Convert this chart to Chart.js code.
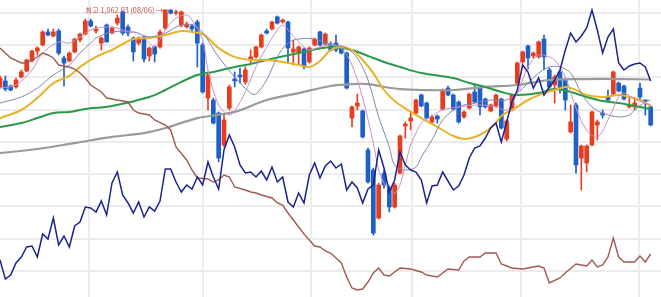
<!DOCTYPE html>
<html><head><meta charset="utf-8">
<script src="https://cdn.jsdelivr.net/npm/chart.js@4.4.1/dist/chart.umd.min.js"></script>
<style>html,body{margin:0;padding:0;background:#fff;overflow:hidden}#wrap{width:661px;height:297px;position:relative}</style>
</head><body><div id="wrap"><canvas id="c"></canvas></div>
<script>
// ---- candle data (index points) ----
const open = [1014.1,1017.8,1014.7,1014.1,1020.3,1024.0,1030.2,1036.4,1040.1,1048.2,1045.7,1048.8,1032.0,1030.2,1035.8,1043.2,1046.9,1055.0,1048.8,1041.3,1052.5,1047.5,1053.7,1060.6,1051.3,1044.4,1041.3,1045.1,1033.3,1038.9,1038.9,1050.6,1061.8,1059.9,1052.5,1051.3,1051.9,1054.4,1040.1,1007.2,1006.0,997.9,978.1,1001.0,1019.0,1021.5,1017.2,1030.8,1032.7,1038.9,1048.8,1050.0,1057.5,1054.4,1054.4,1035.8,1035.1,1037.6,1029.6,1040.1,1048.2,1040.7,1040.7,1041.3,1038.2,1035.1,994.8,1002.3,999.2,975.0,962.6,932.8,960.7,951.4,939.7,960.7,989.9,993.0,997.9,1009.1,1004.1,992.4,996.1,1000.4,1013.4,1009.1,1004.8,995.5,1001.0,1011.0,1013.4,1006.6,999.2,1002.3,1006.6,981.8,999.8,1016.5,1029.6,1039.5,1033.3,1032.7,1043.8,1024.6,1015.3,1023.4,1018.4,986.2,1002.9,970.0,966.9,978.1,990.5,997.9,1007.9,1009.7,1016.5,1014.7,1001.7,1001.7,1013.4,1006.0,1001.7];
const close = [1019.6,1012.8,1012.2,1018.4,1023.4,1030.8,1036.4,1038.2,1048.2,1046.3,1048.2,1035.1,1028.9,1035.1,1043.8,1046.9,1055.0,1051.9,1050.0,1044.4,1042.0,1050.6,1056.8,1047.5,1047.5,1035.8,1044.4,1031.4,1038.2,1034.5,1048.2,1061.8,1059.9,1060.6,1060.6,1053.1,1050.0,1041.3,1011.0,1021.5,991.7,970.0,993.6,1014.1,1017.8,1020.3,1024.6,1032.7,1038.9,1046.3,1047.5,1054.4,1053.7,1055.6,1038.2,1037.6,1038.9,1026.5,1038.2,1043.8,1040.1,1046.9,1037.0,1037.0,1035.1,1013.4,1001.7,1004.1,983.1,955.2,923.5,953.3,953.3,939.7,953.3,983.7,991.1,994.8,1006.0,1002.3,994.8,995.5,994.2,1012.2,1009.1,1000.4,992.4,998.6,1009.7,1004.8,1001.7,1001.7,1002.9,1009.1,988.6,993.0,1009.1,1028.9,1035.8,1032.0,1035.1,1042.0,1032.7,1014.1,1020.3,1013.4,1006.0,992.4,965.7,977.5,977.5,998.6,992.4,996.7,1006.0,1023.4,1011.6,1006.6,1002.9,1004.1,1007.9,1005.4,990.5];
const high = [1020.9,1020.9,1015.3,1019.6,1024.6,1031.4,1037.0,1038.9,1048.8,1050.0,1050.0,1050.0,1033.3,1035.8,1044.4,1047.5,1056.2,1056.2,1051.9,1045.1,1053.1,1051.3,1058.7,1061.2,1052.5,1045.1,1045.1,1045.7,1038.9,1039.5,1049.4,1062.03,1061.9,1061.8,1061.2,1054.4,1053.1,1055.6,1041.3,1023.4,1007.2,998.6,996.7,1015.3,1023.4,1025.8,1026.5,1037.0,1039.5,1046.9,1050.0,1055.0,1058.1,1056.2,1055.0,1043.2,1039.5,1038.2,1038.9,1044.4,1048.8,1047.5,1042.0,1046.3,1038.9,1035.8,1002.3,1009.7,999.8,976.2,963.8,954.5,962.6,952.7,954.5,984.3,992.4,997.9,1006.6,1009.7,1004.8,996.7,996.7,1012.8,1014.7,1009.7,1005.4,999.2,1010.3,1015.9,1014.1,1007.2,1003.5,1009.7,1007.2,993.6,1009.7,1029.6,1036.4,1040.1,1035.8,1042.6,1046.3,1025.8,1021.5,1024.6,1019.6,1002.9,1004.1,978.1,978.1,999.2,993.6,999.8,1012.2,1024.0,1017.2,1015.3,1007.9,1007.2,1016.5,1006.0,1002.3];
const low = [1013.4,1011.6,1011.6,1013.4,1019.6,1023.4,1029.6,1033.9,1039.5,1045.7,1045.1,1033.9,1014.7,1029.6,1035.2,1042.0,1046.3,1051.3,1047.5,1037.0,1041.8,1046.9,1052.5,1046.3,1045.7,1030.2,1040.1,1029.6,1030.2,1029.6,1038.2,1049.4,1059.3,1058.7,1051.3,1050.6,1048.8,1026.5,1010.3,999.8,991.1,967.6,976.9,999.8,1014.1,1016.5,1015.9,1028.9,1032.0,1038.2,1046.9,1049.4,1053.1,1053.7,1028.9,1027.7,1027.7,1025.2,1028.9,1039.5,1039.5,1040.1,1036.4,1035.8,1034.5,1012.8,989.3,999.8,982.4,954.5,922.3,932.2,951.4,936.6,939.0,960.1,982.4,987.4,997.3,1001.7,994.2,991.7,991.7,999.8,1008.5,999.8,991.7,994.8,1000.4,1004.1,996.7,1001.0,998.6,1001.7,988.0,980.6,999.2,1015.9,1028.9,1025.2,1032.0,1032.0,1024.6,1013.4,1004.1,1010.3,999.8,985.5,960.7,950.2,961.4,977.5,981.2,994.8,1005.4,1009.1,1011.0,1006.0,1001.0,999.8,1006.0,996.7,989.9];

// ---- moving averages [candle index, value] ----
const ma5 = [[0,1013.4],[3,1015.3],[6,1024.6],[8,1035.1],[11,1042.0],[13,1041.3],[15,1045.1],[17,1049.4],[20,1051.3],[22,1050.6],[24,1048.2],[26,1047.5],[28,1041.3],[29,1038.9],[31,1049.4],[33,1056.8],[35,1058.7],[36,1055.6],[38,1043.2],[39,1024.6],[41,1002.9],[43,996.7],[44,999.2],[46,1011.0],[48,1026.5],[50,1038.9],[52,1049.4],[53,1052.5],[54,1049.4],[56,1042.0],[57,1038.9],[58,1037.0],[60,1038.9],[62,1040.1],[64,1038.2],[66,1027.7],[68,1007.2],[70,979.3],[71,962.6],[72,954.5],[73,950.2],[74,948.3],[75,953.3],[76,965.7],[77,978.1],[78,985.5],[79,991.7],[81,996.1],[83,999.8],[86,1001.7],[90,1002.9],[93,1001.7],[95,999.8],[97,1010.3],[99,1026.5],[101,1033.9],[103,1032.7],[104,1030.8],[106,1020.3],[108,1001.0],[110,987.4],[112,983.1],[114,993.6],[116,1007.9],[117,1010.3],[119,1006.6],[121,1004.1],[122,1002.9]];
const ma10 = [[0,1004.1],[4,1007.9],[7,1013.4],[10,1021.5],[13,1027.7],[15,1035.1],[17,1041.3],[18,1044.4],[21,1048.2],[25,1048.2],[28,1045.1],[31,1047.5],[34,1052.5],[37,1051.3],[41,1032.7],[44,1020.3],[47,1010.3],[48,1009.7],[50,1018.4],[52,1032.7],[54,1041.3],[56,1043.8],[59,1043.8],[61,1041.3],[63,1040.1],[65,1038.2],[67,1032.0],[69,1018.4],[71,995.5],[73,976.9],[74,965.7],[76,962.6],[78,964.5],[79,970.7],[81,981.2],[83,993.6],[86,1001.7],[89,1004.1],[92,1006.0],[95,1006.0],[97,1010.3],[99,1016.5],[101,1022.7],[103,1026.5],[105,1026.5],[107,1022.7],[109,1010.3],[111,1001.7],[113,997.9],[116,995.5],[118,996.7],[119,999.8],[121,1004.8],[122,1006.0]];
const ma20 = [[0,994.8],[4,999.8],[7,1007.2],[10,1016.5],[13,1020.9],[15,1026.5],[18,1032.7],[21,1037.0],[25,1043.8],[28,1044.4],[31,1046.3],[34,1048.8],[36,1048.2],[38,1046.9],[39,1044.4],[41,1038.2],[44,1032.7],[47,1030.8],[50,1030.8],[53,1029.6],[56,1027.7],[58,1026.5],[60,1030.2],[62,1037.0],[64,1038.9],[66,1037.0],[68,1030.8],[70,1022.7],[72,1012.2],[74,1005.4],[77,998.6],[79,994.8],[82,989.3],[85,983.7],[87,981.8],[89,983.1],[91,986.2],[93,991.7],[94,996.1],[97,1001.7],[99,1006.0],[102,1010.3],[104,1012.2],[106,1014.1],[108,1012.2],[110,1009.1],[113,1007.9],[116,1009.1],[118,1007.9],[120,1006.0],[122,1002.3]];
const ma60 = [[0,989.3],[4,991.7],[7,994.8],[10,997.9],[13,998.6],[16,1000.4],[21,1002.3],[28,1007.9],[31,1012.2],[34,1017.2],[37,1021.5],[40,1023.4],[44,1026.5],[47,1028.3],[50,1030.8],[56,1035.1],[62,1038.9],[66,1037.0],[69,1033.3],[72,1029.6],[75,1026.5],[79,1022.7],[85,1019.6],[88,1016.5],[91,1014.1],[94,1011.0],[97,1009.1],[101,1010.3],[104,1012.8],[107,1011.0],[110,1007.9],[113,1005.4],[116,1004.1],[119,1002.3],[122,1000.4]];
const ma120 = [[0,973.1],[7,975.6],[14,979.3],[21,983.1],[27,985.5],[31,988.6],[37,994.8],[44,998.6],[50,1006.0],[56,1010.3],[62,1014.7],[66,1015.9],[69,1015.9],[72,1014.1],[75,1012.8],[79,1012.2],[85,1012.2],[91,1014.1],[97,1015.3],[103,1018.4],[110,1019.0],[116,1019.0],[122,1018.7]];

// ---- overlay indicators (own scale) ----
const navy = [40,21,25,37,43,53,54,43,66,61,82,55,64,53,74,78,93,92,88,99,85,117,128,105,97,87,98,83,93,89,99,131,131,118,108,115,111,123,115,138,123,111,150,165,153,135,127,128,123,129,120,133,118,123,98,93,107,97,125,137,122,134,139,132,136,110,118,112,97,111,115,150,132,108,120,148,135,130,128,120,97,114,115,128,119,110,114,125,142,152,154,162,172,177,158,178,198,210,235,228,212,222,205,213,220,230,250,267,258,264,272,290,270,247,263,271,237,230,234,236,237,233,219];
const brown = [[0,252],[1,247],[2,242],[4,237],[5,237],[6,240],[7,243],[8,247],[9,245],[10,242],[11,235],[13,233],[14,231],[15,227],[16,222],[17,215],[19,208],[20,202],[22,200],[24,198],[25,190],[26,187],[28,185],[29,180],[31,175],[32,170],[33,153],[35,140],[36,130],[37,122],[39,121],[40,118],[41,120],[42,125],[43,123],[44,113],[46,110],[47,108],[48,107],[49,105],[51,102],[52,97],[53,95],[54,87],[55,80],[56,73],[57,66],[58,60],[59,54],[60,53],[61,49],[62,47],[64,37],[65,23],[66,12],[67,10],[68,11],[69,18],[70,27],[71,32],[72,25],[73,24],[75,32],[77,31],[79,28],[80,25],[82,23],[84,31],[86,30],[87,39],[88,43],[90,43],[91,47],[93,47],[94,36],[96,32],[98,31],[101,34],[102,32],[103,17],[105,22],[106,27],[108,36],[109,35],[110,34],[111,40],[112,33],[113,35],[114,43],[115,62],[116,43],[117,38],[119,38],[120,44],[121,38],[122,46]];

// ---- grid positions ----
const monthBreaks = [5.63, 27.75, 48.56, 67.88, 86.63, 108.75];
const priceTicks = [900, 920, 940, 960, 980, 1000, 1020, 1040, 1060];
const highLabel = '최고 1,062.03 (08/06) →';
const highIndex = 31;

const UP = '#e63d1f', DOWN = '#1f5fc8';
const colors = open.map((o, i) => close[i] >= o ? UP : DOWN);
const pairs = arr => arr.map(p => ({x: p[0], y: p[1]}));

const labelPlugin = {
  id: 'highLabel',
  afterDatasetsDraw(chart) {
    const {ctx, scales} = chart;
    const x = scales.x.getPixelForValue(highIndex) - 2;
    const y = scales.y.getPixelForValue(high[highIndex]) + 1;
    ctx.save();
    ctx.font = '7.3px "Noto Sans CJK KR", "Noto Sans", sans-serif';
    ctx.fillStyle = '#c0504a';
    ctx.textAlign = 'right';
    ctx.textBaseline = 'middle';
    ctx.fillText(highLabel, x, y);
    ctx.restore();
  }
};

new Chart(document.getElementById('c'), {
  type: 'bar',
  data: {
    datasets: [
      {type:'line', data: navy.map((v,i)=>({x:i,y:v})), yAxisID:'y2', borderColor:'#1a248c', borderWidth:1.5, pointRadius:0, tension:0, order:1},
      {type:'line', data: pairs(brown), yAxisID:'y2', borderColor:'#a05a50', borderWidth:1.4, pointRadius:0, tension:0, order:2},
      {type:'line', data: pairs(ma5), borderColor:'#c890c8', borderWidth:1, pointRadius:0, tension:0.35, order:3},
      {type:'line', data: pairs(ma10), borderColor:'#8585ad', borderWidth:1, pointRadius:0, tension:0.35, order:4},
      {type:'line', data: pairs(ma20), borderColor:'#e8b22a', borderWidth:2, pointRadius:0, tension:0.35, order:5},
      {type:'line', data: pairs(ma60), borderColor:'#2a9a48', borderWidth:2, pointRadius:0, tension:0.35, order:6},
      {type:'line', data: pairs(ma120), borderColor:'#9a9a9a', borderWidth:2.2, pointRadius:0, tension:0.35, order:7},
      {data: open.map((o,i)=>({x:i, y:[o, close[i]]})), backgroundColor: colors, barThickness:4, minBarLength:1, grouped:false, borderWidth:0, order:10},
      {data: low.map((l,i)=>({x:i, y:[l, high[i]]})), backgroundColor: colors, barThickness:1, grouped:false, borderWidth:0, order:11}
    ]
  },
  options: {
    animation:false, responsive:true, maintainAspectRatio:false,
    layout:{padding:0, autoPadding:false},
    plugins:{legend:{display:false}, tooltip:{enabled:false}},
    scales:{
      x:{type:'linear', min:0, max:123.94, offset:false,
         afterBuildTicks: s => { s.ticks = monthBreaks.map(v=>({value:v})); },
         ticks:{display:false}, border:{display:false},
         grid:{color:'#ececec', lineWidth:2, drawTicks:false}},
      y:{type:'linear', min:883.86, max:1068,
         afterBuildTicks: s => { s.ticks = priceTicks.map(v=>({value:v})); },
         ticks:{display:false}, border:{display:false},
         grid:{color:'#ececec', lineWidth:2, drawTicks:false}},
      y2:{type:'linear', min:3, max:300, display:false}
    }
  },
  plugins:[labelPlugin]
});
</script></body></html>
